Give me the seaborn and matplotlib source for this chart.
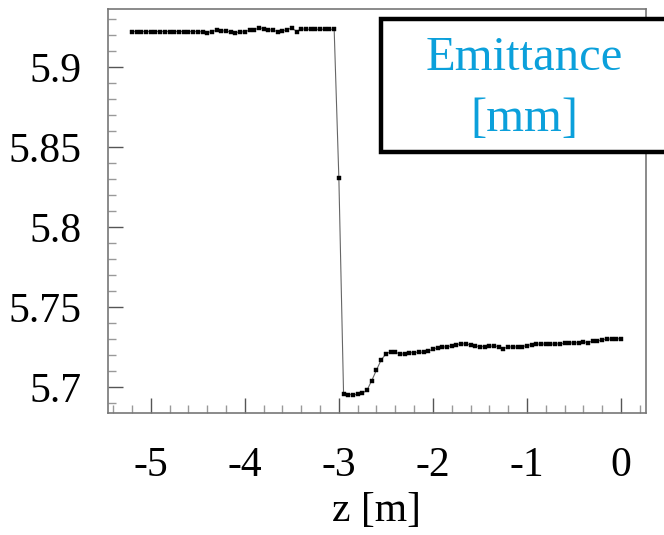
import numpy as np
import pandas as pd
import matplotlib
matplotlib.use("Agg")
import matplotlib.pyplot as plt
from matplotlib.patches import Rectangle
from matplotlib.ticker import FixedLocator, MultipleLocator
import seaborn as sns

# Beam emittance along the beamline, sampled every 5 cm
z_upstream = np.round(np.arange(-5.20, -3.049, 0.05), 2)
emit_upstream = [
    5.9221, 5.9221, 5.9221, 5.9221, 5.9221, 5.9221, 5.9221, 5.9221,
    5.9221, 5.9221, 5.9221, 5.9221, 5.9221, 5.9221, 5.9221, 5.9219,
    5.9214, 5.9221, 5.9229, 5.9227, 5.9223, 5.9219, 5.9215, 5.9217,
    5.9221, 5.9229, 5.9231, 5.9244, 5.9240, 5.9233, 5.9229, 5.9221,
    5.9225, 5.9233, 5.9244, 5.9221, 5.9238, 5.9235, 5.9235, 5.9235,
    5.9235, 5.9235, 5.9235, 5.9235,
]
z_transition = [-3.00]
emit_transition = [5.8304]
z_downstream = np.round(np.arange(-2.95, 0.001, 0.05), 2)
emit_downstream = [
    5.6956, 5.6952, 5.6952, 5.6953, 5.6960, 5.6981, 5.7040, 5.7106,
    5.7169, 5.7206, 5.7221, 5.7219, 5.7204, 5.7208, 5.7213, 5.7215,
    5.7217, 5.7217, 5.7223, 5.7235, 5.7246, 5.7250, 5.7250, 5.7258,
    5.7265, 5.7269, 5.7269, 5.7263, 5.7256, 5.7252, 5.7252, 5.7254,
    5.7256, 5.7252, 5.7240, 5.7250, 5.7250, 5.7250, 5.7252, 5.7258,
    5.7265, 5.7267, 5.7269, 5.7267, 5.7267, 5.7269, 5.7269, 5.7273,
    5.7275, 5.7275, 5.7277, 5.7281, 5.7277, 5.7288, 5.7285, 5.7296,
    5.7298, 5.7300, 5.7300, 5.7302,
]

x_ticks = [-5, -4, -3, -2, -1, 0]
x_tick_labels = ["-5", "-4", "-3", "-2", "-1", "0"]
y_ticks = [5.70, 5.75, 5.80, 5.85, 5.90]
y_tick_labels = ["5.7", "5.75", "5.8", "5.85", "5.9"]
x_label = "z [m]"
legend_lines = ["Emittance", "[mm]"]

df = pd.DataFrame({
    "z": np.concatenate([z_upstream, z_transition, z_downstream]),
    "emittance": np.concatenate([emit_upstream, emit_transition, emit_downstream]),
})

sns.set_style("white")
plt.rcParams["font.family"] = ["Liberation Serif", "DejaVu Serif"]
plt.rcParams["axes.unicode_minus"] = False

fig = plt.figure(figsize=(6.64, 5.35), dpi=100)
ax = fig.add_axes([108 / 664, 1 - 412.7 / 535, (646 - 108) / 664, (412.7 - 9.3) / 535])

sns.lineplot(
    data=df, x="z", y="emittance", ax=ax, color="#666666", linewidth=0.8,
    marker="s", markersize=2.2, markerfacecolor="black", markeredgecolor="black",
    markeredgewidth=0.3, estimator=None, sort=False,
)

ax.set_xlim(-5.455, 0.266)
ax.set_ylim(5.6839, 5.936)

ax.xaxis.set_major_locator(FixedLocator(x_ticks))
ax.set_xticklabels(x_tick_labels)
ax.xaxis.set_minor_locator(MultipleLocator(0.2))
ax.yaxis.set_major_locator(FixedLocator(y_ticks))
ax.set_yticklabels(y_tick_labels)
ax.yaxis.set_minor_locator(MultipleLocator(0.01))

ax.tick_params(axis="both", which="both", direction="in", colors="#555555",
               labelcolor="black", bottom=True, left=True, top=False, right=False)
ax.tick_params(axis="both", which="major", length=11, width=1.0, labelsize=30)
ax.tick_params(axis="both", which="minor", length=6, width=1.0, color="#999999")
ax.tick_params(axis="y", which="major", pad=19)
ax.tick_params(axis="x", which="major", pad=24)

for side in ax.spines.values():
    side.set_color("#777777")
    side.set_linewidth(1.2)

ax.set_xlabel(x_label, fontsize=30, color="black", labelpad=5)
ax.set_ylabel("")

# Title box in the top-right corner, running off the figure edge
fig.patches.append(Rectangle(
    (381 / 664, 1 - 152.2 / 535), 0.6, (152.2 - 18.8) / 535,
    transform=fig.transFigure, facecolor="white", edgecolor="black",
    linewidth=3.2, clip_on=False, zorder=5,
))
fig.text(524 / 664, 1 - 58 / 535, legend_lines[0], color="#0BA0DB",
         fontsize=35, ha="center", va="center", zorder=6)
fig.text(524 / 664, 1 - 119 / 535, legend_lines[1], color="#0BA0DB",
         fontsize=35, ha="center", va="center", zorder=6)

fig.savefig("out.png", dpi=100)
